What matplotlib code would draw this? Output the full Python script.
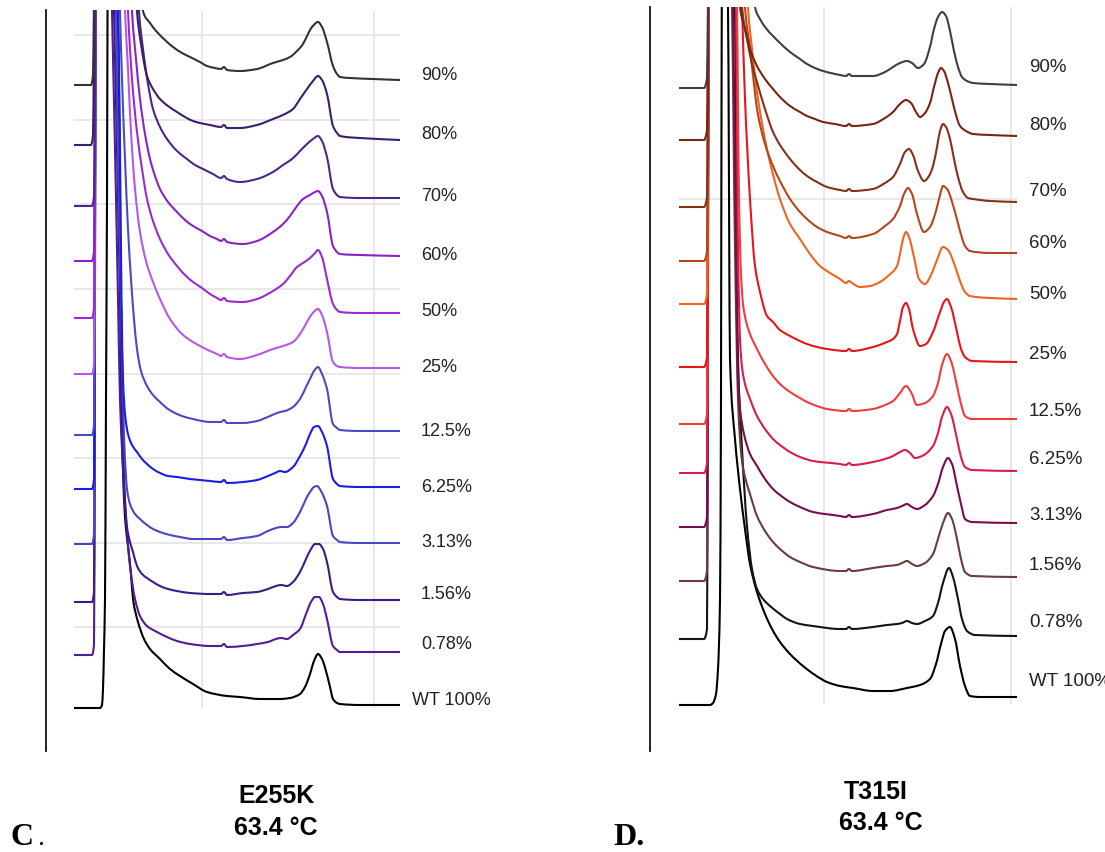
import matplotlib
matplotlib.use("Agg")
import matplotlib.pyplot as plt
from matplotlib.path import Path
from matplotlib.patches import PathPatch

W, H = 1105, 853

# ---------------- Panel C (E255K) : traces as (time, response) readings ----------------
# response axis runs downward in these units
C_labels = ["90%", "80%", "70%", "60%", "50%", "25%", "12.5%", "6.25%", "3.13%", "1.56%", "0.78%", "WT 100%"]
C_colors = ["#333333", "#3c1e6e", "#4b2888", "#8a22c8", "#9a2ad2", "#b25ae6",
            "#4b4ac2", "#1c1ce8", "#4747c6", "#3c1c84", "#4e1e98", "#000000"]
C_label_y = [74, 133, 195, 254, 310, 366, 430, 486, 541, 593, 643, 699]
C_label_x = [421, 421, 421, 421, 421, 421, 421, 421, 421, 421, 421, 412]

C_90 = [(74,86),(91,86),(93,76),(95,-80),(140,-80),(143,12),(150,24),(157,33),(165,41),(173,48),(182,54),(190,58),(200,63),(207,67),(215,69),(221,70),(224,68),(227,71),(240,72),(257,70),(273,64),(283,61),(290,58),(297,52),(303,45),(307,37),(312,28),(318,23),(322,28),(327,43),(333,67),(337,75),(340,78),(350,79),(373,80),(400,81)]
C_80 = [(74,146),(91,146),(93,136),(95,-80),(134,-80),(137,12),(141,45),(147,77),(153,90),(160,100),(168,107),(177,113),(185,118),(193,122),(200,124),(210,126),(221,128),(224,126),(227,129),(240,129),(257,126),(273,120),(285,115),(293,110),(300,100),(307,90),(313,82),(318,77),(322,81),(327,95),(333,127),(337,134),(340,137),(360,139),(400,141)]
C_70 = [(74,207),(92,207),(94,197),(96,-80),(136,-80),(139,12),(143,50),(148,85),(153,110),(160,128),(167,140),(177,152),(187,160),(195,166),(203,170),(213,175),(221,179),(224,177),(227,180),(240,183),(257,180),(273,173),(283,166),(292,160),(300,152),(307,145),(313,140),(318,137),(322,142),(327,158),(333,190),(337,196),(340,198),(360,199),(400,199)]
C_60 = [(74,262),(92,262),(94,252),(96,-80),(129,-80),(132,12),(136,60),(140,100),(145,135),(150,160),(155,177),(160,190),(168,203),(177,213),(185,221),(193,227),(202,232),(210,237),(217,240),(221,242),(224,240),(227,243),(243,245),(257,242),(273,233),(283,225),(290,217),(297,207),(303,200),(310,196),(315,193),(318,192),(322,197),(327,213),(333,247),(337,253),(340,255),(360,256),(400,257)]
C_50 = [(74,319),(92,319),(94,309),(96,-80),(125,-80),(128,12),(132,80),(137,133),(142,170),(147,200),(153,222),(160,240),(168,255),(177,267),(185,276),(193,283),(202,289),(210,295),(217,299),(221,301),(224,299),(227,302),(243,303),(257,300),(273,292),(283,285),(290,277),(297,268),(303,264),(310,259),(315,254),(318,251),(322,258),(327,280),(333,305),(337,311),(340,313),(360,314),(400,314)]
C_25 = [(74,375),(92,375),(94,365),(96,-80),(122,-80),(125,12),(128,70),(131,133),(135,190),(140,233),(146,262),(153,283),(160,300),(170,320),(182,335),(193,343),(202,348),(210,352),(217,355),(221,357),(224,355),(227,358),(240,360),(257,356),(273,350),(283,347),(293,343),(300,335),(307,323),(312,315),(318,310),(322,316),(327,333),(333,363),(337,367),(340,368),(360,369),(400,369)]
C_12_5 = [(74,436),(92,436),(94,426),(96,-80),(118,-80),(120,12),(122,80),(125,160),(128,230),(131,280),(134,320),(137,350),(141,372),(147,387),(153,396),(160,403),(168,410),(177,415),(185,418),(193,420),(202,422),(210,423),(221,423),(224,421),(227,424),(243,424),(257,422),(270,417),(280,413),(285,412),(293,408),(300,400),(306,388),(310,380),(314,372),(318,368),(322,375),(327,390),(333,425),(337,429),(340,431),(360,432),(400,432)]
C_6_25 = [(74,490),(92,490),(94,480),(96,-80),(116,-80),(118,12),(120,150),(121.5,300),(123,380),(125,415),(128,435),(132,446),(137,453),(142,460),(147,465),(153,470),(160,474),(168,477),(177,478),(190,480),(200,481),(210,482),(221,483),(224,481),(227,484),(243,483),(257,481),(268,477),(275,474),(280,472),(285,473),(293,468),(300,457),(306,445),(310,435),(314,428),(318,427),(322,433),(327,447),(333,480),(337,485),(340,487),(360,488),(400,488)]
C_3_13 = [(74,545),(92,545),(94,535),(96,-80),(114,-80),(116,12),(118,150),(120,250),(121,300),(123,400),(125,460),(127,490),(130,505),(135,515),(140,520),(147,526),(153,530),(160,533),(170,536),(180,538),(193,540),(210,540),(221,540),(224,538),(227,541),(243,539),(257,537),(268,532),(276,529),(281,528),(287,528),(293,524),(300,513),(306,500),(310,493),(314,488),(317,487),(321,492),(327,507),(333,537),(337,541),(340,543),(360,544),(400,544)]
C_1_56 = [(74,603),(92,603),(94,593),(96,-80),(112,-80),(114,12),(117,150),(120,300),(122,400),(125,500),(127,528),(130,543),(133,553),(137,567),(142,575),(147,579),(153,583),(160,587),(168,590),(177,592),(190,594),(210,595),(221,595),(224,593),(227,596),(243,594),(257,593),(268,590),(276,587),(281,586),(287,587),(293,583),(300,573),(306,560),(311,550),(315,545),(319,545),(323,550),(327,563),(333,593),(337,598),(340,600),(360,601),(400,601)]
C_0_78 = [(74,656),(92,656),(94,646),(96,-80),(110,-80),(112,12),(115,150),(118,300),(120,400),(123,470),(126,520),(130,567),(135,600),(140,617),(147,627),(157,633),(167,638),(177,642),(190,645),(210,647),(221,647),(224,645),(227,648),(243,647),(257,645),(268,643),(276,640),(281,639),(287,640),(293,636),(300,630),(306,615),(311,603),(315,598),(319,598),(323,605),(327,620),(333,647),(337,651),(340,653),(360,653),(400,653)]
C_WT = [(74,709),(100,709),(102,706),(103,690),(104,650),(105,600),(106,400),(107,200),(108,-80),(116,-80),(118,12),(120,200),(121,400),(123,470),(124,500),(126,530),(128,547),(131,575),(133,600),(138,623),(144,640),(150,650),(160,660),(170,670),(180,677),(193,685),(207,693),(227,697),(240,698),(260,700),(280,700),(290,699),(300,695),(305,688),(310,675),(314,662),(318,655),(322,660),(326,672),(330,688),(333,700),(337,704),(340,705),(360,706),(400,706)]

# ---------------- Panel D (T315I) ----------------
D_labels = ["90%", "80%", "70%", "60%", "50%", "25%", "12.5%", "6.25%", "3.13%", "1.56%", "0.78%", "WT 100%"]
D_colors = ["#3f3f3f", "#7b2410", "#86301a", "#b3461a", "#f0641e", "#e8141a",
            "#f03c3c", "#d81e48", "#7a0c4e", "#6b3c3c", "#141414", "#000000"]
D_label_y = [65, 123, 189, 241, 293, 353, 410, 458, 514, 564, 621, 680]
D_label_x = [1029] * 12

D_90 = [(679,89),(704,89),(707,79),(709,-80),(752,-80),(755,8),(760,20),(765,28),(773,37),(780,44),(790,53),(800,60),(807,65),(815,69),(823,72),(840,76),(846,77),(849,75),(852,77),(873,77),(885,73),(893,68),(900,64),(907,62),(912,64),(918,69),(924,65),(930,48),(934,30),(938,18),(942,13),(946,17),(950,32),(954,52),(958,68),(962,78),(967,82),(973,84),(990,85),(1017,86)]
D_80 = [(679,141),(704,141),(707,131),(709,-80),(737,-80),(740,8),(745,30),(750,50),(757,67),(765,80),(773,90),(780,98),(790,107),(800,113),(807,117),(815,120),(823,123),(835,125),(846,127),(849,125),(852,127),(873,125),(885,119),(893,113),(900,105),(906,101),(911,104),(916,113),(920,118),(925,114),(930,104),(934,88),(938,74),(941,69),(944,72),(948,84),(952,100),(956,116),(960,127),(966,132),(973,135),(990,136),(1017,137)]
D_70 = [(679,208),(704,208),(707,198),(709,-80),(739,-80),(742,8),(747,40),(752,65),(757,83),(765,110),(773,133),(780,146),(790,160),(800,171),(807,177),(817,183),(827,188),(840,191),(846,192),(849,190),(852,192),(873,190),(885,184),(893,178),(900,165),(905,153),(909,150),(913,156),(918,172),(924,182),(929,177),(933,167),(937,148),(940,132),(943,125),(946,128),(950,140),(954,160),(958,178),(963,193),(968,199),(973,200),(990,202),(1017,203)]
D_60 = [(679,262),(704,262),(707,252),(709,-80),(742,-80),(745,8),(750,50),(754,85),(757,110),(765,145),(773,167),(780,182),(790,200),(800,213),(807,220),(817,228),(827,233),(840,237),(846,239),(849,237),(852,239),(873,235),(885,227),(893,220),(900,207),(904,195),(908,189),(912,195),(917,215),(924,233),(930,228),(936,212),(940,196),(943,187),(947,190),(955,213),(960,232),(965,247),(970,252),(990,254),(1017,254)]
D_50 = [(679,305),(704,305),(707,295),(709,-80),(745,-80),(748,8),(752,50),(758,100),(767,150),(780,200),(790,225),(800,240),(810,255),(820,267),(830,274),(840,280),(846,284),(849,282),(852,284),(860,288),(870,287),(880,283),(888,277),(897,267),(900,255),(903,240),(906,233),(909,238),(914,258),(919,280),(925,285),(931,276),(937,261),(943,248),(948,251),(955,267),(960,282),(965,293),(970,297),(990,299),(1017,300)]
D_25 = [(679,368),(704,368),(707,358),(709,-80),(739,-80),(742,8),(745,100),(750,200),(755,267),(760,293),(767,317),(773,323),(780,331),(790,337),(800,342),(807,345),(817,348),(827,350),(846,352),(849,350),(852,352),(873,348),(887,343),(893,340),(897,335),(900,322),(903,308),(906,304),(909,310),(913,330),(920,347),(926,345),(933,333),(940,313),(944,303),(947,300),(951,308),(957,333),(961,350),(965,358),(972,362),(1017,363)]
D_12_5 = [(679,425),(704,425),(707,415),(709,-80),(735,-80),(737,8),(739,200),(741,275),(743,305),(746,322),(750,335),(757,350),(765,365),(773,377),(780,385),(790,393),(800,399),(807,403),(817,407),(827,410),(846,412),(849,410),(852,412),(873,410),(885,406),(893,402),(900,394),(906,387),(911,393),(917,406),(925,404),(933,397),(938,384),(942,366),(947,355),(951,362),(957,387),(961,405),(965,417),(972,420),(1017,420)]
D_6_25 = [(679,474),(704,474),(707,464),(709,-80),(734,-80),(736,8),(738,250),(740,340),(742,368),(745,385),(750,400),(757,417),(765,430),(773,440),(780,446),(790,453),(800,458),(813,462),(840,465),(846,466),(849,464),(852,466),(873,463),(885,460),(893,457),(900,453),(905,451),(910,454),(915,459),(922,457),(933,447),(938,434),(942,418),(947,408),(951,415),(957,440),(961,458),(965,468),(972,471),(1017,472)]
D_3_13 = [(679,528),(704,528),(707,518),(709,-80),(731,-80),(733,8),(736,250),(738,375),(740,410),(744,435),(750,455),(757,467),(765,480),(773,490),(780,496),(790,503),(800,508),(813,513),(840,517),(846,518),(849,516),(852,518),(873,515),(887,511),(897,509),(902,507),(907,505),(912,508),(917,510),(925,506),(933,497),(938,485),(943,468),(948,459),(952,465),(957,487),(961,505),(965,520),(972,523),(1017,524)]
D_1_56 = [(679,582),(704,582),(707,572),(709,-80),(730,-80),(732,8),(735,250),(738,400),(740,440),(742,462),(745,478),(750,495),(757,517),(765,532),(773,543),(780,550),(790,558),(800,563),(813,568),(840,572),(846,572),(849,570),(852,572),(873,569),(887,567),(897,566),(902,564),(907,562),(912,565),(917,567),(925,564),(933,555),(938,540),(943,524),(948,514),(952,520),(957,540),(961,560),(965,573),(972,577),(1017,578)]
D_0_78 = [(679,640),(704,640),(707,630),(709,-80),(733,-80),(735,8),(737,300),(738,360),(742,450),(747,527),(752,570),(757,590),(763,600),(770,607),(780,615),(787,620),(800,625),(813,627),(840,630),(846,630),(849,628),(852,630),(873,628),(887,626),(897,625),(902,624),(907,622),(912,624),(917,625),(925,622),(933,617),(938,604),(943,584),(949,569),(953,578),(958,600),(962,620),(967,632),(975,636),(1017,637)]
D_WT = [(679,706),(710,706),(713,704),(716,695),(718,670),(720,600),(721,400),(722,-80),(726,-80),(728,8),(730,360),(735,440),(740,490),(745,530),(750,565),(757,593),(765,615),(772,630),(780,643),(790,655),(803,667),(815,676),(827,683),(840,687),(853,689),(873,692),(890,692),(907,689),(920,686),(930,680),(936,665),(941,645),(945,632),(950,628),(955,640),(960,667),(965,687),(970,697),(980,698),(1017,698)]

C_traces = [C_90, C_80, C_70, C_60, C_50, C_25, C_12_5, C_6_25, C_3_13, C_1_56, C_0_78, C_WT]
D_traces = [D_90, D_80, D_70, D_60, D_50, D_25, D_12_5, D_6_25, D_3_13, D_1_56, D_0_78, D_WT]

# grid positions (in the same units)
C_vgrid = [202, 374]
C_hgrid = [36, 121, 205, 290, 375, 459, 544, 628]
D_vgrid = [824, 1011]
D_hgrid = [200]

fig = plt.figure(figsize=(W / 100, H / 100), dpi=100)


def add_panel(l, t, r, b, spine_gap):
    ax = fig.add_axes([l / W, 1 - b / H, (r - l) / W, (b - t) / H])
    ax.set_xlim(l, r)
    ax.set_ylim(b, t)
    ax.set_xticks([])
    ax.set_yticks([])
    for s in ("top", "right", "bottom"):
        ax.spines[s].set_visible(False)
    ax.spines["left"].set_position(("outward", spine_gap * 72 / 100))
    ax.spines["left"].set_linewidth(1.3)
    ax.spines["left"].set_color("#111111")
    ax.patch.set_alpha(0)
    return ax


def smooth_path(pts):
    """Monotone (shape-preserving) cubic Bezier path through the read points."""
    xs = [p[0] for p in pts]
    ys = [p[1] for p in pts]
    n = len(xs)
    h = [xs[i + 1] - xs[i] for i in range(n - 1)]
    d = [(ys[i + 1] - ys[i]) / h[i] for i in range(n - 1)]
    m = [0.0] * n
    m[0] = d[0]
    m[-1] = d[-1]
    for k in range(1, n - 1):
        if d[k - 1] * d[k] <= 0:
            m[k] = 0.0
        else:
            w1 = 2 * h[k] + h[k - 1]
            w2 = h[k] + 2 * h[k - 1]
            m[k] = (w1 + w2) / (w1 / d[k - 1] + w2 / d[k])
    verts = [(xs[0], ys[0])]
    codes = [Path.MOVETO]
    for i in range(n - 1):
        verts += [(xs[i] + h[i] / 3, ys[i] + m[i] * h[i] / 3),
                  (xs[i + 1] - h[i] / 3, ys[i + 1] - m[i + 1] * h[i] / 3),
                  (xs[i + 1], ys[i + 1])]
        codes += [Path.CURVE4] * 3
    return Path(verts, codes)


def draw(ax, traces, colors, labels, label_y, label_x, vgrid, hgrid, x0, x1, ytop, ybot, fs):
    ax.vlines(vgrid, ytop, ybot, color="#e2e2e2", lw=1.1, zorder=0)
    ax.hlines(hgrid, x0, x1, color="#e2e2e2", lw=1.1, zorder=0)
    for tr, col in zip(traces[::-1], colors[::-1]):
        patch = PathPatch(smooth_path(tr), facecolor="none", edgecolor=col, lw=1.5,
                          joinstyle="round", capstyle="round", zorder=2)
        ax.add_patch(patch)
    for lab, yy, xx in zip(labels, label_y, label_x):
        ax.text(xx, yy + 6.5, lab, ha="left", va="baseline", fontsize=fs,
                family="Liberation Sans", color="#222222")


axC = add_panel(74, 11, 400, 752, 28)
draw(axC, C_traces, C_colors, C_labels, C_label_y, C_label_x, C_vgrid, C_hgrid, 74, 400, 12, 709, 13)

axD = add_panel(679, 8, 1017, 752, 29)
draw(axD, D_traces, D_colors, D_labels, D_label_y, D_label_x, D_vgrid, D_hgrid, 679, 1017, 8, 705, 13.5)


def ftext(x, y, s, **kw):
    fig.text(x / W, 1 - y / H, s, **kw)


ftext(276, 803, "E255K", ha="center", va="baseline", fontsize=18, fontweight="bold", family="Liberation Sans")
ftext(276, 835, "63.4 °C", ha="center", va="baseline", fontsize=18, fontweight="bold", family="Liberation Sans")
ftext(876, 799, "T315I", ha="center", va="baseline", fontsize=18, fontweight="bold", family="Liberation Sans")
ftext(881, 830, "63.4 °C", ha="center", va="baseline", fontsize=18, fontweight="bold", family="Liberation Sans")
ftext(11, 845, "C", ha="left", va="baseline", fontsize=23, fontweight="bold", family="Liberation Serif")
ftext(37, 845, ".", ha="left", va="baseline", fontsize=20, family="Liberation Serif")
ftext(613, 845, "D.", ha="left", va="baseline", fontsize=23, fontweight="bold", family="Liberation Serif")

fig.savefig("out.png", dpi=100)
